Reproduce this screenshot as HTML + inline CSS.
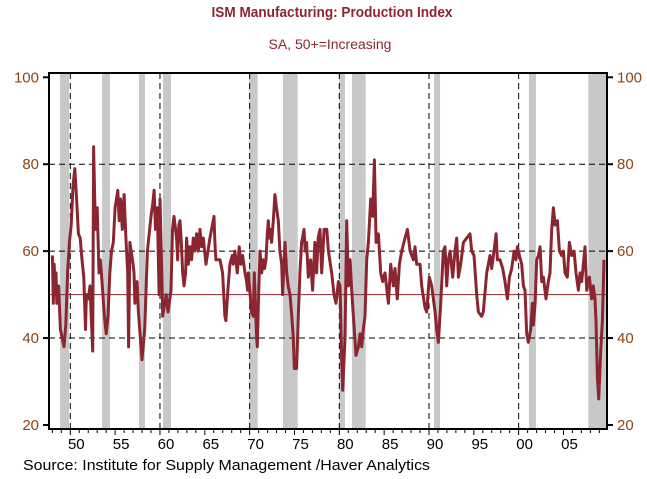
<!DOCTYPE html>
<html><head><meta charset="utf-8"><style>
body{margin:0;background:#fff;width:647px;height:474px;overflow:hidden;font-family:"Liberation Sans",Arial,sans-serif}
</style></head><body>
<svg id="chart" width="647" height="474" xmlns="http://www.w3.org/2000/svg">
<text x="332" y="17" text-anchor="middle" font-size="15" font-weight="bold" fill="#8B2630" textLength="241" lengthAdjust="spacingAndGlyphs">ISM Manufacturing: Production Index</text>
<text x="330" y="49" text-anchor="middle" font-size="14" fill="#8B2630">SA, 50+=Increasing</text>
<g id="rec"></g>
<g id="grid"></g>
<g id="series"></g>
<g id="axes"></g>
<text x="23" y="470" font-size="15" fill="#000" textLength="407" lengthAdjust="spacingAndGlyphs">Source:  Institute for Supply Management /Haver Analytics</text>
</svg>
<script>
const years=[
1948.0,1948.1,1948.2,1948.3,1948.4,1948.5,1948.7,1948.9,1949.1,1949.3,
1949.5,1949.7,1949.9,1950.1,1950.3,1950.5,1950.7,1950.9,1951.1,1951.3,
1951.5,1951.7,1951.8,1952.0,1952.2,1952.35,1952.5,1952.6,1952.8,1953.0,
1953.2,1953.35,1953.5,1953.8,1954.0,1954.2,1954.4,1954.6,1954.8,1955.0,
1955.3,1955.45,1955.6,1955.8,1956.0,1956.2,1956.4,1956.5,1956.65,1957.0,
1957.1,1957.2,1957.45,1957.6,1958.0,1958.3,1958.6,1959.0,1959.2,1959.35,
1959.5,1959.7,1959.9,1960.0,1960.2,1960.3,1960.7,1960.9,1961.23,1961.4,
1961.56,1961.85,1961.97,1962.1,1962.23,1962.38,1962.53,1962.68,1962.86,1962.97,
1963.16,1963.35,1963.53,1963.72,1963.9,1964.09,1964.27,1964.46,1964.64,1964.83,
1965.13,1965.57,1966.02,1966.13,1966.24,1966.69,1966.98,1967.24,1967.35,1967.61,
1967.8,1968.06,1968.17,1968.36,1968.62,1968.84,1969.03,1969.22,1969.48,1969.66,
1969.77,1969.85,1970.22,1970.41,1970.52,1970.78,1970.85,1971.0,1971.15,1971.34,
1971.52,1971.67,1971.82,1971.97,1972.08,1972.19,1972.34,1972.45,1972.64,1972.82,
1973.0,1973.2,1973.38,1973.57,1973.68,1973.94,1974.13,1974.3,1974.5,1974.7,
1974.87,1974.98,1975.24,1975.43,1975.6,1975.8,1975.9,1976.06,1976.2,1976.35,
1976.54,1976.8,1977.02,1977.28,1977.47,1977.65,1977.85,1978.04,1978.3,1978.6,
1978.78,1979.15,1979.41,1979.63,1979.9,1980.08,1980.27,1980.38,1980.64,1980.82,
1981.01,1981.2,1981.38,1981.57,1981.86,1982.13,1982.31,1982.5,1982.68,1982.87,
1983.05,1983.24,1983.5,1983.72,1983.91,1984.1,1984.36,1984.62,1984.84,1985.1,
1985.47,1985.73,1986.03,1986.21,1986.47,1986.7,1986.96,1987.33,1987.59,1987.89,
1988.26,1988.44,1988.63,1989.0,1989.19,1989.56,1989.75,1990.04,1990.3,1990.68,
1990.86,1991.05,1991.31,1991.6,1991.79,1991.98,1992.16,1992.35,1992.65,1992.9,
1993.09,1993.28,1993.54,1993.84,1994.21,1994.58,1994.76,1995.02,1995.32,1995.51,
1995.88,1996.06,1996.44,1996.81,1996.99,1997.25,1997.48,1997.63,1997.92,1998.22,
1998.48,1998.74,1998.97,1999.23,1999.49,1999.71,1999.86,2000.08,2000.34,2000.53,
2000.71,2000.9,2001.08,2001.34,2001.53,2001.64,2001.83,2002.01,2002.2,2002.39,
2002.57,2002.76,2003.05,2003.31,2003.5,2003.69,2003.87,2004.06,2004.32,2004.54,
2004.8,2004.99,2005.17,2005.43,2005.66,2005.92,2006.18,2006.4,2006.66,2006.85,
2007.03,2007.4,2007.59,2007.89,2008.15,2008.33,2008.52,2008.63,2008.78,2008.93,
2009.15,2009.34,2009.52];
const values=[
59,48,57,50,55,48,52,42,40,38,
43,55,62,66,75,79,72,64,63,58,
54,42,50,49,52,44,37,84,65,70,
55,58,54,45,41,45,55,60,62,70,
74,67,72,65,73,63,55,38,62,57,
55,48,53,46,35,42,60,68,71,74,
65,70,50,72,55,45,50,46,51,65,
68,63,58,66,67,62,55,52,55,63,
57,61,58,63,60,64,60,65,61,63,
57,63,68,62,58,58,55,45,44,52,
57,59,57,60,55,61,57,59,55,53,
51,55,46,45,55,40,38,50,60,55,
58,56,58,64,67,63,65,62,67,73,
70,67,60,57,50,62,55,52,50,45,
40,33,33,45,55,62,63,65,60,62,
54,58,51,62,55,63,65,55,65,65,
60,55,50,48,53,52,35,28,40,67,
52,58,51,45,36,38,41,38,42,45,
58,62,72,68,81,62,64,55,53,55,
48,57,52,56,49,57,60,63,65,60,
58,61,57,57,52,47,46,54,52,46,
42,39,48,60,61,52,58,60,54,60,
63,54,57,62,63,64,60,59,50,46,
45,46,55,59,56,60,64,58,58,56,
53,49,54,56,60,58,61,59,57,52,
51,41,39,42,48,43,48,58,59,61,
53,54,49,53,55,65,70,66,67,60,
59,60,55,54,62,59,60,55,51,55,
53,61,51,54,49,52,49,44,31,26,
37,44,58];
const recStart=[1948.85,1953.54,1957.66,1960.34,1969.96,1973.72,1980.0,1981.41,1990.56,2001.15,2007.77];
const recEnd=[1949.86,1954.43,1958.33,1961.23,1970.9,1975.36,1980.63,1982.94,1991.23,2001.93,2009.8];
const yTicks=[20,40,60,80,100];
const xTickLabels=["50","55","60","65","70","75","80","85","90","95","00","05"];
const xTickYears=[1950,1955,1960,1965,1970,1975,1980,1985,1990,1995,2000,2005];
const decadeLines=[1950,1960,1970,1980,1990,2000];
const L=49,R=607,T=73,B=429;
function xs(y){return 70.3+(y-1950)*8.967;}
function ys(v){return 77.3+(100-v)*4.346;}
const NS="http://www.w3.org/2000/svg";
function mk(tag,attrs,parent,txt){const e=document.createElementNS(NS,tag);for(const k in attrs)e.setAttribute(k,attrs[k]);if(txt!==undefined)e.textContent=txt;parent.appendChild(e);return e;}
const rec=document.getElementById('rec'),grid=document.getElementById('grid'),ser=document.getElementById('series'),axes=document.getElementById('axes');
for(let i=0;i<recStart.length;i++){
  const x0=Math.max(L,xs(recStart[i])),x1=Math.min(R,xs(recEnd[i]));
  const r=mk('rect',{x:x0,y:T,width:x1-x0,height:B-T,fill:'#c8c8c8'},rec);
  
  
}
[40,60,80].forEach(v=>{
  const l=mk('line',{x1:L,x2:R,y1:ys(v),y2:ys(v),stroke:'#000','stroke-width':1,'stroke-dasharray':'6,4'},grid);
  
  
});
decadeLines.forEach(y=>{
  const l=mk('line',{x1:xs(y),x2:xs(y),y1:T,y2:B,stroke:'#000','stroke-width':1,'stroke-dasharray':'6,4'},grid);
  
  
});
const fifty=mk('line',{x1:L,x2:R,y1:ys(50),y2:ys(50),stroke:'#8B2630','stroke-width':1},grid);


let d='';
const n=Math.min(years.length,values.length);
for(let i=0;i<n;i++){d+=(i?'L':'M')+xs(years[i]).toFixed(1)+','+ys(values[i]).toFixed(1);}
const path=mk('path',{d:d,fill:'none',stroke:'#8B2630','stroke-width':3,'stroke-linejoin':'round'},ser);


const frame=mk('rect',{x:L,y:T,width:R-L,height:B-T,fill:'none',stroke:'#000','stroke-width':2},axes);


yTicks.forEach(v=>{
  mk('line',{x1:L-6,x2:L,y1:ys(v),y2:ys(v),stroke:'#000','stroke-width':2},axes);
  mk('line',{x1:R,x2:R+6,y1:ys(v),y2:ys(v),stroke:'#000','stroke-width':2},axes);
  const t1=mk('text',{x:L-10,y:ys(v)+5,'text-anchor':'end','font-size':15,fill:'#8B4513'},axes,String(v));
  
  
  const t2=mk('text',{x:R+10,y:ys(v)+5,'text-anchor':'start','font-size':15,fill:'#8B4513'},axes,String(v));
  
  
});
for(let y=1948;y<=2009;y++){
  const x=xs(y);if(x<L||x>R)continue;
  mk('line',{x1:x,x2:x,y1:B,y2:B+(y%5===0?6:4),stroke:'#000','stroke-width':1},axes);
}
xTickYears.forEach((y,i)=>{
  const t=mk('text',{x:xs(y)+6,y:449,'text-anchor':'middle','font-size':15,fill:'#000'},axes,xTickLabels[i]);
  
  
});
</script>
</body></html>
